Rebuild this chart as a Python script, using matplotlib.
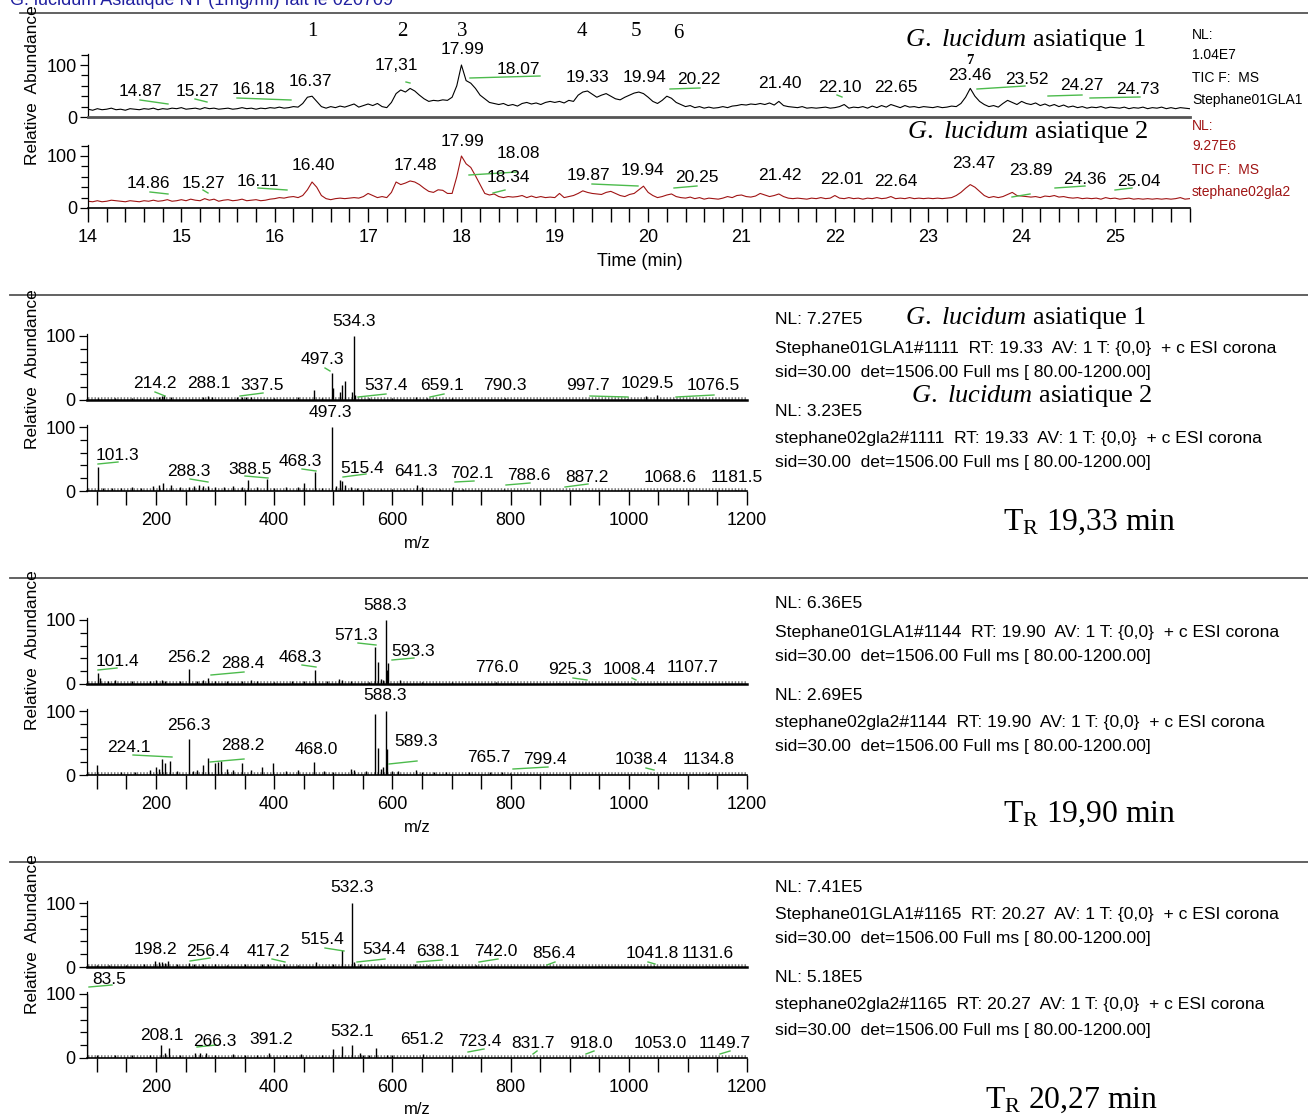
import matplotlib
matplotlib.use('Agg')
import matplotlib.pyplot as plt
from matplotlib.lines import Line2D
from matplotlib.ticker import FixedLocator
import numpy as np

W, H = 1308, 1118
plt.rcParams['mathtext.fontset'] = 'custom'
plt.rcParams['mathtext.rm'] = 'Liberation Serif'
plt.rcParams['mathtext.it'] = 'Liberation Serif:italic'
NARROW = ['Liberation Sans', 'DejaVu Sans']
SANS = ['Liberation Sans', 'DejaVu Sans']
SERIF = ['Liberation Serif', 'DejaVu Serif']

# ---------------- DATA ----------------
# TIC chromatograms, relative abundance every 0.05 min (14.00 .. 25.80)
tic_time = np.round(np.arange(14.0, 25.8001, 0.05), 2)
tic_gla1 = [
    15,13,16,14,15,17,14,15,13,16,15,14,16,15,17,14,16,15,17,16,
    18,15,16,17,15,18,16,17,15,16,17,15,16,18,16,17,15,17,16,18,
    17,19,17,18,20,19,26,38,40,30,20,17,20,18,21,19,22,25,19,22,
    25,22,26,20,18,28,45,52,48,55,50,42,35,30,32,31,33,32,38,60,
    100,70,65,55,42,35,28,26,24,26,22,24,21,26,28,25,27,24,28,30,
    28,30,27,32,30,42,48,50,44,38,42,45,40,35,33,38,42,46,48,45,
    38,30,26,32,40,36,28,24,20,22,18,20,17,19,17,18,20,18,21,22,
    24,23,25,24,26,24,27,23,30,22,20,19,18,20,17,18,17,18,19,17,
    18,20,24,17,19,18,20,17,21,18,22,19,24,21,18,22,19,20,18,20,
    19,18,20,18,19,21,20,26,38,55,40,30,24,20,22,19,26,32,28,24,
    30,26,24,27,22,25,21,24,20,23,19,21,18,20,17,19,18,20,17,19,
    18,17,19,16,18,17,19,16,18,17,19,16,18,16,18,17,16]
tic_gla2 = [
    13,12,14,12,13,15,14,13,12,14,13,12,14,13,15,13,14,16,13,14,
    16,14,17,15,14,18,15,17,13,15,16,14,15,17,14,15,16,14,15,17,
    18,20,19,21,22,20,24,35,50,40,24,18,16,18,19,18,19,20,19,22,
    28,24,20,22,20,30,50,45,48,52,50,45,38,32,30,35,34,28,28,60,
    100,85,78,62,45,28,25,27,22,20,22,21,22,24,20,23,20,22,20,21,
    20,28,20,22,24,28,33,30,28,27,26,30,32,28,24,22,26,28,35,42,
    30,24,20,22,25,27,22,20,19,21,18,20,17,19,18,17,19,22,20,24,
    25,22,21,23,28,25,22,24,27,22,19,18,19,18,17,19,18,20,18,19,
    24,19,18,20,18,19,17,19,18,20,18,19,22,18,19,18,20,18,19,18,
    19,18,19,18,19,20,24,30,38,45,40,32,24,20,22,20,22,26,30,24,
    23,22,21,22,20,23,22,24,21,22,20,19,20,18,19,18,19,17,20,18,
    19,17,18,19,17,18,17,18,17,18,17,18,17,18,20,17,18]

# peak-label texts of the chromatograms
tic1_labels = ['14.87','15.27','16.18','16.37','17,31','17.99','18.07','19.33','19.94',
               '20.22','21.40','22.10','22.65','23.46','23.52','24.27','24.73']
tic2_labels = ['14.86','15.27','16.11','16.40','17.48','17.99','18.08','18.34','19.87',
               '19.94','20.25','21.42','22.01','22.64','23.47','23.89','24.36','25.04']
peak_numbers = ['1','2','3','4','5','6','7']

# Mass spectra (m/z, relative abundance)
ms_1111_gla1 = [(101,3),(130,3),(160,3),(190,3),(205,5),(210,6),(214.2,8),(225,4),(280,5),
    (288.1,6),(295,5),(337.5,5),(345,5),(352,5),(360,4),(400,3),(440,4),(468,15),(480,3),
    (497.3,42),(500,18),(511,12),(515,24),(519,30),(532,12),(534.3,100),(537.4,8),(560,3),
    (600,3),(640,4),(659.1,3),(700,3),(740,2),(790.3,3),(850,2),(997.7,2),(1029.5,7),
    (1048,8),(1076.5,2),(1120,2),(1160,2)]
ms_1111_gla2 = [(101.3,38),(110,4),(125,5),(140,4),(160,6),(175,5),(195,8),(205,10),(212,12),
    (225,10),(240,6),(255,7),(265,8),(272,9),(280,8),(288.3,8),(300,6),(315,7),(330,8),(345,6),
    (356,17),(370,6),(388.5,18),(400,5),(420,6),(440,6),(450,12),(468.3,30),(480,5),(497.3,100),
    (505,8),(512,17),(515.4,16),(520,10),(530,6),(540,4),(560,3),(580,3),(600,3),(620,3),
    (641.3,9),(650,6),(680,3),(702.1,7),(720,3),(760,2),(788.6,3),(850,2),(887.2,2),(950,1),
    (1000,1),(1068.6,1),(1100,1),(1181.5,1)]
ms_1144_gla1 = [(101.4,17),(105,10),(118,5),(130,6),(160,4),(190,5),(200,6),(210,6),(215,5),
    (240,4),(256.2,23),(270,5),(280,6),(288.4,10),(300,4),(320,4),(345,5),(360,6),(370,5),
    (400,3),(430,4),(450,4),(468.3,22),(490,4),(510,8),(515,6),(530,4),(560,3),(571.3,58),
    (575,35),(580,8),(584,6),(588.3,100),(591,22),(593.3,33),(613,6),(650,3),(700,3),(776,3),
    (800,2),(880,2),(925.3,2),(1008.4,2),(1050,2),(1107.7,2),(1165,2)]
ms_1144_gla2 = [(100,15),(140,5),(165,5),(190,8),(200,12),(205,10),(210,25),(215,18),(224.1,22),
    (235,6),(256.3,57),(262,6),(270,8),(280,15),(288.2,27),(300,18),(305,20),(310,22),(320,10),
    (330,8),(345,18),(360,8),(380,12),(398,18),(420,6),(440,8),(468.0,20),(485,6),(500,5),
    (530,10),(535,8),(555,6),(571.3,95),(575,42),(580,10),(584,12),(588.3,100),(591,40),
    (600,6),(610,6),(640,8),(650,5),(670,4),(690,4),(730,5),(765.7,5),(785,5),(799.4,3),
    (860,2),(1038.4,2),(1134.8,3)]
ms_1165_gla1 = [(100,3),(120,3),(150,3),(180,4),(198.2,10),(205,8),(210,8),(215,6),(220,10),
    (235,4),(256.4,6),(265,5),(280,4),(300,4),(320,3),(350,4),(380,4),(390,5),(417.2,5),
    (440,3),(470,8),(500,4),(515.4,27),(532.3,100),(534.4,8),(545,4),(580,3),(638.1,4),
    (660,3),(700,3),(742.0,3),(800,2),(856.4,2),(950,2),(1041.8,2),(1131.6,2)]
ms_1165_gla2 = [(83.5,100),(100,4),(130,4),(160,4),(190,5),(208.1,20),(215,8),(222,15),(240,5),
    (266.3,8),(275,8),(285,8),(300,5),(330,6),(350,4),(370,5),(391.2,8),(420,4),(445,6),
    (480,4),(500,14),(515,18),(532.1,20),(545,8),(550,5),(560,4),(573,16),(590,4),(600,4),
    (651.2,7),(700,3),(723.4,3),(780,2),(831.7,2),(918.0,3),(1000,2),(1053.0,2),(1149.7,2)]
noise_level = 1.5

info_texts = {
    '1111': ['NL: 7.27E5', 'Stephane01GLA1#1111  RT: 19.33  AV: 1 T: {0,0}  + c ESI corona',
             'sid=30.00  det=1506.00 Full ms [ 80.00-1200.00]', 'NL: 3.23E5',
             'stephane02gla2#1111  RT: 19.33  AV: 1 T: {0,0}  + c ESI corona',
             'sid=30.00  det=1506.00 Full ms [ 80.00-1200.00]'],
    '1144': ['NL: 6.36E5', 'Stephane01GLA1#1144  RT: 19.90  AV: 1 T: {0,0}  + c ESI corona',
             'sid=30.00  det=1506.00 Full ms [ 80.00-1200.00]', 'NL: 2.69E5',
             'stephane02gla2#1144  RT: 19.90  AV: 1 T: {0,0}  + c ESI corona',
             'sid=30.00  det=1506.00 Full ms [ 80.00-1200.00]'],
    '1165': ['NL: 7.41E5', 'Stephane01GLA1#1165  RT: 20.27  AV: 1 T: {0,0}  + c ESI corona',
             'sid=30.00  det=1506.00 Full ms [ 80.00-1200.00]', 'NL: 5.18E5',
             'stephane02gla2#1165  RT: 20.27  AV: 1 T: {0,0}  + c ESI corona',
             'sid=30.00  det=1506.00 Full ms [ 80.00-1200.00]'],
}
rt_titles = ['19,33', '19,90', '20,27']

# ---------------- LAYOUT ----------------
fig = plt.figure(figsize=(W / 100, H / 100), dpi=100)
RED = '#a01414'
GREEN = '#4cbb4c'
LBL = 12.5

def fx(x): return x / W
def fy(y): return 1 - y / H

def ftext(x, y, s, ha='left', va='center', **kw):
    fig.text(fx(x), fy(y), s, ha=ha, va=va, **kw)

def fline(x0, y0, x1, y1, color=GREEN, lw=1.0):
    fig.add_artist(Line2D([fx(x0), fx(x1)], [fy(y0), fy(y1)], transform=fig.transFigure,
                          color=color, lw=lw))

def make_ax(left, right, y0, ppu, ymax):
    ax = fig.add_axes([left / W, 1 - y0 / H, (right - left) / W, ymax * ppu / H])
    ax.set_ylim(0, ymax)
    ax.patch.set_alpha(0)
    for s in ('top', 'right'):
        ax.spines[s].set_visible(False)
    ax.spines['left'].set_linewidth(0.9)
    ax.yaxis.set_major_locator(FixedLocator([0, 100]))
    ax.yaxis.set_minor_locator(FixedLocator([20, 40, 60, 80] + ([120] if ymax > 110 else [])))
    ax.tick_params(axis='y', which='major', direction='out', length=6, width=0.9, pad=2,
                   labelsize=13, labelfontfamily=NARROW)
    ax.tick_params(axis='y', which='minor', direction='out', length=5, width=0.9)
    return ax

def style_x(ax, show, major, minor):
    if show:
        ax.xaxis.set_major_locator(FixedLocator(major))
        ax.xaxis.set_minor_locator(FixedLocator(minor))
        ax.tick_params(axis='x', which='both', direction='out', length=10, width=1.0,
                       labelsize=13, labelfontfamily=NARROW, pad=5)
        ax.spines['bottom'].set_linewidth(1.2)
    else:
        ax.set_xticks([])
        ax.spines['bottom'].set_linewidth(2.0)
        ax.spines['bottom'].set_color('#555555')

# Title line and separators
ftext(10, 5, 'G. lucidum Asiatique NT (1mg/ml) fait le 020709', va='baseline',
      color='#2020a0', fontsize=13, family=SANS)
for yy, x0 in [(13, 20), (295, 10), (578, 10), (862, 10)]:
    fline(x0, yy, W, yy, color='#555555', lw=1.3)

# ---------- Chromatograms ----------
T_LEFT, T_RIGHT = 88, 1190
tmin = 14.0
tmax = tmin + (T_RIGHT - T_LEFT) / 93.36
ax1 = make_ax(T_LEFT, T_RIGHT, 117, 0.52, 122)
ax1.plot(tic_time, tic_gla1, color='black', lw=0.8)
ax1.set_xlim(tmin, tmax)
style_x(ax1, False, [], [])
ax2 = make_ax(T_LEFT, T_RIGHT, 208, 0.52, 122)
ax2.plot(tic_time, tic_gla2, color=RED, lw=0.8)
ax2.set_xlim(tmin, tmax)
style_x(ax2, True, list(range(14, 26)),
        [round(14 + 0.2 * i, 1) for i in range(0, 60) if i % 5 != 0])

tic1_pos = [(140,92),(197,92),(253,90),(310,82),(396,65),(462,50),(518,70),(587,77),(644,77),
            (699,80),(780,83),(840,88),(896,88),(970,76),(1027,80),(1082,86),(1138,90)]
tic2_pos = [(148,184),(203,183),(258,181),(313,166),(415,166),(462,141),(518,153),(508,177),
            (588,175),(643,171),(697,177),(780,175),(842,179),(896,181),(974,164),(1031,171),
            (1085,179),(1139,181)]
for s, (x, y) in zip(tic1_labels, tic1_pos):
    ftext(x, y, s, ha='center', fontsize=LBL, family=NARROW)
for s, (x, y) in zip(tic2_labels, tic2_pos):
    ftext(x, y, s, ha='center', fontsize=LBL, family=NARROW)
for seg in [(140,100,168,104),(195,99,207,102),(237,98,291,100),(406,82,410,83),
            (470,78,540,76),(670,89,700,88),(837,95,842,97),(977,89,1025,86),
            (1048,96,1082,95),(1090,98,1140,97),
            (150,192,168,194),(203,190,208,193),(258,188,287,190),(469,175,517,172),
            (493,193,505,190),(592,184,638,186),(674,188,697,186),(1012,197,1030,194),
            (1055,188,1085,186),(1115,190,1132,188)]:
    fline(*seg)
for s, (x, y) in zip(peak_numbers, [(312,32),(402,32),(462,32),(582,32),(636,32),(678,33),(970,60)]):
    ftext(x, y, s, ha='center', fontsize=15 if s != '7' else 10.5,
          fontweight='normal' if s != '7' else 'bold', family=SERIF)

title_1 = r'$\mathit{G.}$ $\mathit{lucidum}$ asiatique 1'
title_2 = r'$\mathit{G.}$ $\mathit{lucidum}$ asiatique 2'
ftext(905, 40, title_1, fontsize=19, family=SERIF)
ftext(907, 132, title_2, fontsize=19, family=SERIF)
for s, y in zip(['NL:', '1.04E7', 'TIC F:  MS', 'Stephane01GLA1'], [35, 55, 78, 100]):
    ftext(1192, y, s, fontsize=10, family=SANS)
for s, y in zip(['NL:', '9.27E6', 'TIC F:  MS', 'stephane02gla2'], [126, 146, 170, 192]):
    ftext(1192, y, s, fontsize=10, family=SANS, color=RED)
ftext(640, 261, 'Time (min)', ha='center', fontsize=13, family=SANS)

# ---------- Mass spectra ----------
M_LEFT, M_RIGHT = 86.9, 747
MZ_MIN, MZ_MAX = 83, 1200
ms_panels = [
    (ms_1111_gla1, ms_1111_gla2, 400, 491, '1111'),
    (ms_1144_gla1, ms_1144_gla2, 684, 775, '1144'),
    (ms_1165_gla1, ms_1165_gla2, 967, 1058, '1165'),
]
mz_major = [200, 400, 600, 800, 1000, 1200]
mz_minor = [v for v in range(100, 1200, 50) if v not in mz_major]

def draw_spec(ax, spec):
    mz, inten = zip(*spec)
    ax.hlines(noise_level, MZ_MIN + 2, MZ_MAX - 2, color='#7a7a7a', lw=2.6,
              linestyles=(0, (0.4, 0.5)))
    ax.vlines(mz, 0, inten, color='black', lw=1.0)
    ax.set_xlim(MZ_MIN, MZ_MAX)

for spec_a, spec_b, y_top, y_bot, key in ms_panels:
    axa = make_ax(M_LEFT, M_RIGHT, y_top, 0.64, 103)
    draw_spec(axa, spec_a)
    style_x(axa, False, [], [])
    axa.spines['bottom'].set_color('black')
    axa.spines['bottom'].set_linewidth(1.8)
    axb = make_ax(M_LEFT, M_RIGHT, y_bot, 0.64, 103)
    draw_spec(axb, spec_b)
    style_x(axb, True, mz_major, mz_minor)
    ftext(417, y_bot + 52, 'm/z', ha='center', fontsize=12, family=SANS)
    texts = info_texts[key]
    base = y_top - 80
    for s, dy in zip(texts, [0, 28, 52, 91, 118, 143]):
        ftext(775, base + dy, s, fontsize=12.6, family=SANS)

ms_labels = [
    [('214.2',155,383),('288.1',209,383),('337.5',262,385),('497.3',322,360),('534.3',354,322),
     ('537.4',386,385),('659.1',442,385),('790.3',505,385),('997.7',588,386),('1029.5',647,384),
     ('1076.5',713,386)],
    [('101.3',117,456),('288.3',189,472),('388.5',250,469),('468.3',300,461),('497.3',330,413),
     ('515.4',362,468),('641.3',416,472),('702.1',472,473),('788.6',529,476),('887.2',587,477),
     ('1068.6',670,477),('1181.5',737,477)],
    [('101.4',117,661),('256.2',189,657),('288.4',243,664),('468.3',300,657),('571.3',356,635),
     ('588.3',385,605),('593.3',413,651),('776.0',497,667),('925.3',570,669),('1008.4',629,669),
     ('1107.7',693,668)],
    [('224.1',129,748),('256.3',189,725),('288.2',243,746),('468.0',316,750),('588.3',385,696),
     ('589.3',416,741),('765.7',489,757),('799.4',545,760),('1038.4',641,760),('1134.8',709,760)],
    [('198.2',155,949),('256.4',208,951),('417.2',268,951),('515.4',322,939),('532.3',352,888),
     ('534.4',384,950),('638.1',438,951),('742.0',496,951),('856.4',554,953),('1041.8',652,953),
     ('1131.6',708,953)],
    [('83.5',109,979),('208.1',162,1035),('266.3',215,1041),('391.2',271,1039),('532.1',352,1032),
     ('651.2',422,1040),('723.4',480,1042),('831.7',533,1044),('918.0',591,1044),
     ('1053.0',660,1044),('1149.7',725,1044)],
]
for group in ms_labels:
    for s, x, y in group:
        ftext(x, y, s, ha='center', fontsize=LBL, family=NARROW)

ms_leaders = [(155,392,165,396),(240,396,263,393),(325,368,330,371),(358,397,386,394),
              (430,397,444,394),(590,396,628,397),(676,397,714,395),
              (98,464,118,462),(190,479,208,482),(245,476,268,478),(302,469,316,471),
              (343,477,366,474),(455,482,474,481),(506,485,530,483),(565,487,588,484),
              (98,670,117,668),(211,675,244,672),(302,665,316,667),(358,643,376,645),
              (392,660,414,658),(573,678,587,680),(632,678,636,680),
              (133,755,172,757),(210,762,244,759),(389,764,417,761),(513,769,548,767),
              (646,768,654,770),
              (190,961,210,958),(272,959,285,962),(325,948,344,951),(357,962,385,959),
              (417,962,442,960),(479,962,498,959),(547,965,555,962),(648,962,655,964),
              (89,987,112,985),(197,1047,216,1045),(468,1052,484,1049),(533,1054,537,1051),
              (586,1054,594,1051),(720,1054,730,1051)]
for seg in ms_leaders:
    fline(*seg)

# titles on the MS panels
ftext(905, 318, title_1, fontsize=19, family=SERIF)
ftext(911, 396, title_2, fontsize=19, family=SERIF)
for rt, (x, y) in zip(rt_titles, [(1003, 522), (1003, 814), (985, 1100)]):
    ftext(x, y, r'T$_{\mathrm{R}}$ ' + rt + ' min', fontsize=22.8, family=SERIF)

# y labels
for y in [85, 369, 650, 934]:
    ftext(33, y, 'Relative  Abundance', ha='center', rotation=90, fontsize=12.5, family=SANS)

fig.savefig('out.png', dpi=100)
